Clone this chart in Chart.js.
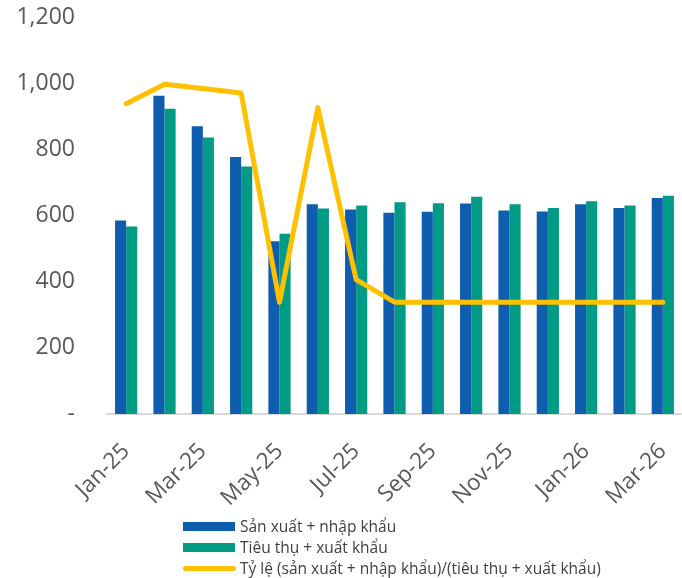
<!DOCTYPE html>
<html>
<head>
<meta charset="utf-8">
<script src="https://cdn.jsdelivr.net/npm/chart.js@4.4.1/dist/chart.umd.min.js"></script>
<style>
  html, body { margin: 0; padding: 0; background: #fff; }
  #wrap { position: relative; width: 682px; height: 578px; overflow: hidden; }
  #c { position: absolute; left: 0; top: 0; }
  .lg { position: absolute; left: 183px; font-family: "Open Sans", sans-serif; font-size: 15.5px; color: #404040; white-space: nowrap; }
  .lg .sw { position: absolute; left: 0; }
  .lg span.t { position: absolute; left: 57px; top: -11px; }
</style>
</head>
<body>
<div id="wrap">
  <canvas id="c" width="682" height="578"></canvas>
</div>
<script>
const categories = ["Jan-25","Feb-25","Mar-25","Apr-25","May-25","Jun-25","Jul-25","Aug-25","Sep-25","Oct-25","Nov-25","Dec-25","Jan-26","Feb-26","Mar-26"];
const supplyValues = [585, 962, 870, 777, 522, 634, 618, 608, 611, 636, 615, 612, 634, 623, 653];
const demandValues = [567, 923, 836, 748, 545, 621, 630, 640, 637, 657, 634, 623, 643, 630, 660];
const ratioValues  = [938, 997, 984, 970, 338, 926, 406, 338, 338, 338, 338, 338, 338, 338, 338];
const yTicks = [0, 200, 400, 600, 800, 1000, 1200];
const seriesNames = ["Sản xuất + nhập khẩu", "Tiêu thụ + xuất khẩu", "Tỷ lệ (sản xuất + nhập khẩu)/(tiêu thụ + xuất khẩu)"];

const BLUE = "#0E5DAE", GREEN = "#009B85", GOLD = "#FFC000", TXT = "#595959";

// HTML legend (stacked, left aligned)
const wrap = document.getElementById("wrap");
const legendRows = [
  {name: seriesNames[0], color: BLUE, type: "box", y: 526},
  {name: seriesNames[1], color: GREEN, type: "box", y: 547},
  {name: seriesNames[2], color: GOLD, type: "line", y: 568}
];
legendRows.forEach(r => {
  const d = document.createElement("div");
  d.className = "lg";
  d.style.top = r.y + "px";
  const sw = document.createElement("div");
  sw.className = "sw";
  if (r.type === "box") {
    sw.style.cssText = `left:0;top:-4px;width:52px;height:9px;background:${r.color};`;
  } else {
    sw.style.cssText = `left:0;top:-2.5px;width:53px;height:5px;border-radius:3px;background:${r.color};`;
  }
  const t = document.createElement("span");
  t.className = "t";
  t.textContent = r.name;
  d.appendChild(sw); d.appendChild(t);
  wrap.appendChild(d);
});

const ctx = document.getElementById("c");
new Chart(ctx, {
  data: {
    labels: categories,
    datasets: [
      { type: "line", label: seriesNames[2], data: ratioValues, borderColor: GOLD, backgroundColor: GOLD,
        borderWidth: 5, pointRadius: 0, tension: 0, borderCapStyle: "round", borderJoinStyle: "round", order: 0 },
      { type: "bar", label: seriesNames[0], data: supplyValues, backgroundColor: BLUE,
        categoryPercentage: 0.58, barPercentage: 1.0, order: 1 },
      { type: "bar", label: seriesNames[1], data: demandValues, backgroundColor: GREEN,
        categoryPercentage: 0.58, barPercentage: 1.0, order: 1 }
    ]
  },
  options: {
    responsive: false,
    animation: false,
    layout: { padding: { top: 0, left: 0, right: 0, bottom: 0 } },
    plugins: { legend: { display: false }, tooltip: { enabled: false } },
    scales: {
      x: {
        grid: { display: false },
        border: { display: true, color: "#D9D9D9", width: 2 },
        afterFit: s => { s.height = 164; s.paddingLeft = 0; s.paddingRight = 0; s.paddingTop = 0; s.paddingBottom = 0; },
        ticks: {
          autoSkip: false, minRotation: 45, maxRotation: 45, padding: 16,
          color: TXT, font: { family: "Open Sans", size: 22.5 },
          callback: function(v, i) { return i % 2 === 0 ? categories[i] : ""; }
        }
      },
      y: {
        min: 0, max: 1200,
        grid: { display: false },
        border: { display: false },
        afterFit: s => { s.width = 107; s.paddingTop = 17; s.paddingBottom = 0; },
        afterBuildTicks: s => { s.ticks = yTicks.map(v => ({ value: v })); },
        ticks: {
          padding: 24, color: TXT, font: { family: "Open Sans", size: 23 },
          callback: v => v === 0 ? "-" : v.toLocaleString("en-US")
        }
      }
    }
  }
});
</script>
</body>
</html>
